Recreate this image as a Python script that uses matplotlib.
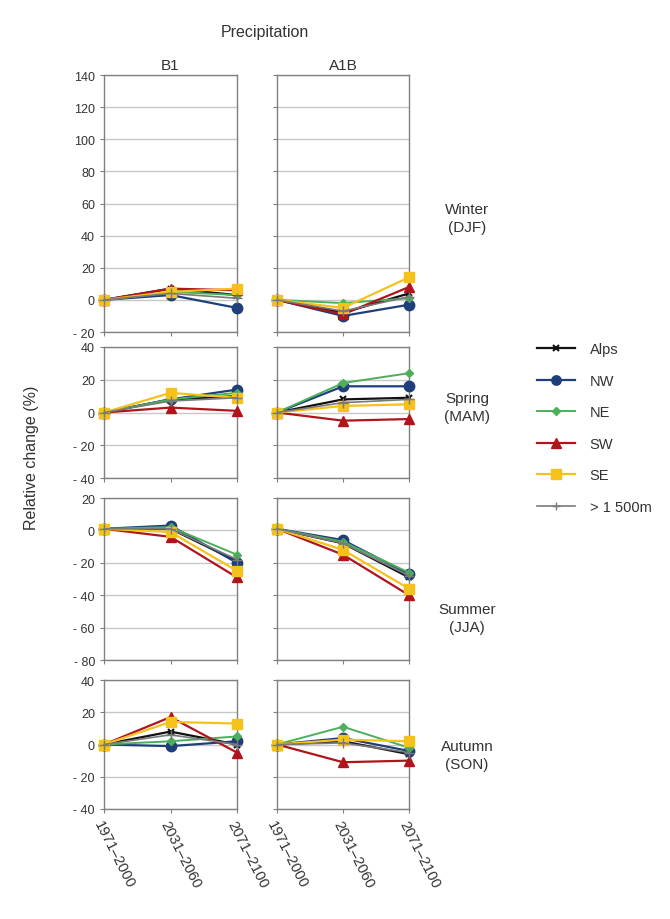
import matplotlib
matplotlib.use("Agg")
import matplotlib.pyplot as plt

plt.rcParams['font.family'] = ['Liberation Sans', 'DejaVu Sans']

periods = ["1971\u20132000", "2031\u20132060", "2071\u20132100"]
regions = ["Alps", "NW", "NE", "SW", "SE", "> 1 500m"]
scenarios = ["B1", "A1B"]
seasons = ["Winter\n(DJF)", "Spring\n(MAM)", "Summer\n(JJA)", "Autumn\n(SON)"]

# relative change (%) per region, one list per scenario: [1971-2000, 2031-2060, 2071-2100]
winter_b1 = {"Alps": [0, 7, 3], "NW": [0, 3, -5], "NE": [0, 5, 3],
             "SW": [0, 7, 6], "SE": [0, 5, 7], "> 1 500m": [0, 4, 1]}
winter_a1b = {"Alps": [0, -8, 4], "NW": [0, -10, -3], "NE": [0, -2, 1],
              "SW": [0, -9, 8], "SE": [0, -5, 14], "> 1 500m": [0, -7, 2]}
spring_b1 = {"Alps": [0, 8, 10], "NW": [0, 8, 14], "NE": [0, 8, 12],
             "SW": [0, 3, 1], "SE": [0, 12, 9], "> 1 500m": [0, 7, 9]}
spring_a1b = {"Alps": [0, 8, 9], "NW": [0, 16, 16], "NE": [0, 18, 24],
              "SW": [0, -5, -4], "SE": [0, 4, 5], "> 1 500m": [0, 6, 8]}
summer_b1 = {"Alps": [1, 1, -19], "NW": [1, 3, -20], "NE": [1, 2, -15],
             "SW": [1, -4, -29], "SE": [1, -1, -25], "> 1 500m": [1, 1, -18]}
summer_a1b = {"Alps": [1, -8, -29], "NW": [1, -6, -27], "NE": [1, -7, -26],
              "SW": [1, -15, -40], "SE": [1, -12, -36], "> 1 500m": [1, -8, -28]}
autumn_b1 = {"Alps": [0, 8, 0], "NW": [0, -1, 2], "NE": [0, 2, 5],
             "SW": [0, 17, -5], "SE": [0, 14, 13], "> 1 500m": [0, 6, 0]}
autumn_a1b = {"Alps": [0, 2, -6], "NW": [0, 4, -4], "NE": [0, 11, -2],
              "SW": [0, -11, -10], "SE": [0, 3, 2], "> 1 500m": [0, 1, -5]}

season_data = [(winter_b1, winter_a1b), (spring_b1, spring_a1b),
               (summer_b1, summer_a1b), (autumn_b1, autumn_a1b)]
y_limits = [(-20, 140), (-40, 40), (-80, 20), (-40, 40)]

styles = {
    "Alps": dict(color="#111111", marker="x", ms=5, lw=1.6, mew=1.5),
    "NW": dict(color="#1f3f7a", marker="o", ms=7.5, lw=1.6),
    "NE": dict(color="#4caf5a", marker="D", ms=4.5, lw=1.4),
    "SW": dict(color="#b0141c", marker="^", ms=7.5, lw=1.6),
    "SE": dict(color="#f5c21b", marker="s", ms=7.5, lw=1.6),
    "> 1 500m": dict(color="#7a7a7a", marker="+", ms=7, lw=1.2),
}

fig = plt.figure(figsize=(6.7, 9.2), dpi=100)

# panel rows in pixels (top, bottom) and columns (left, right)
rows_px = [(76, 333), (348, 479), (499, 661), (681, 810)]
cols_px = [(104, 237), (277, 409)]
season_y = [219, 408, 619, 756]
W, H = 670, 920
text_col = "#333333"

axes = []
for r, (top, bot) in enumerate(rows_px):
    for c, (left, right) in enumerate(cols_px):
        ax = fig.add_axes([left / W, 1 - bot / H, (right - left) / W, (bot - top) / H])
        data = season_data[r][c]
        x = range(len(periods))
        for reg in regions:
            ax.plot(x, data[reg], clip_on=False, zorder=3, **styles[reg])
        lo, hi = y_limits[r]
        ax.set_ylim(lo, hi)
        ax.set_xlim(0, 2)
        ticks = list(range(lo, hi + 1, 20))
        ax.set_yticks(ticks)
        ax.yaxis.grid(True, color="#c8c8c8", lw=1)
        ax.set_axisbelow(True)
        for s in ax.spines.values():
            s.set_color("#808080")
            s.set_linewidth(1)
        ax.tick_params(colors="#808080", length=3, labelcolor=text_col, labelsize=9)
        if c == 0:
            ax.set_yticklabels([f"- {abs(t)}" if t < 0 else str(t) for t in ticks])
        else:
            ax.set_yticklabels([])
        ax.set_xticks([0, 1, 2])
        if r == len(rows_px) - 1:
            ax.set_xticklabels(periods, rotation=-63, ha="left", va="top",
                               rotation_mode="anchor", fontsize=10.5)
        else:
            ax.set_xticklabels([])
        if r == 0:
            ax.set_title(scenarios[c], fontsize=11, color=text_col, pad=4)
        axes.append(ax)
    fig.text(467 / W, 1 - season_y[r] / H, seasons[r], ha="center", va="center",
             fontsize=11, color=text_col, linespacing=1.3)

fig.text(265 / W, 1 - 33 / H, "Precipitation", ha="center", va="center",
         fontsize=11.5, color=text_col)
fig.text(32 / W, 1 - 458 / H, "Relative change (%)", ha="center", va="center",
         rotation=90, fontsize=11.5, color=text_col)

handles = [axes[0].lines[i] for i in range(len(regions))]
fig.legend(handles, regions, loc="upper left", bbox_to_anchor=(524 / W, 1 - 330 / H),
           frameon=False, fontsize=10.5, labelcolor=text_col, handlelength=2.6,
           labelspacing=1.2, handletextpad=1.0, markerscale=0.9)

fig.savefig("out.png", dpi=100, facecolor="white")
